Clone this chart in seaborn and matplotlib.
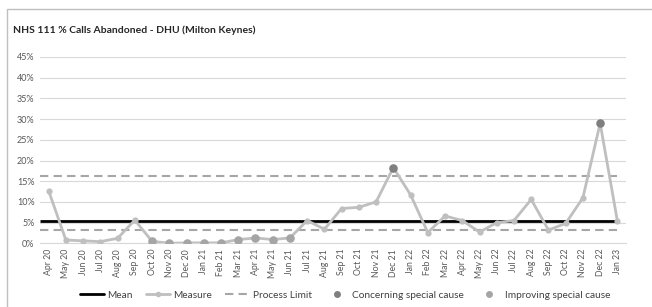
import matplotlib
matplotlib.use("Agg")
import matplotlib.pyplot as plt
import matplotlib.patches as mpatches
from matplotlib.lines import Line2D
import seaborn as sns
import pandas as pd
import numpy as np

months = ["Apr 20", "May 20", "Jun 20", "Jul 20", "Aug 20", "Sep 20", "Oct 20", "Nov 20", "Dec 20",
          "Jan 21", "Feb 21", "Mar 21", "Apr 21", "May 21", "Jun 21", "Jul 21", "Aug 21", "Sep 21",
          "Oct 21", "Nov 21", "Dec 21", "Jan 22", "Feb 22", "Mar 22", "Apr 22", "May 22", "Jun 22",
          "Jul 22", "Aug 22", "Sep 22", "Oct 22", "Nov 22", "Dec 22", "Jan 23"]
measure = [12.7, 0.8, 0.6, 0.4, 1.2, 5.6, 0.5, 0.0, 0.1, 0.1, 0.1, 0.9, 1.3, 0.9, 1.3, 5.5, 3.4,
           8.4, 8.7, 10.0, 18.3, 11.7, 2.6, 6.6, 5.5, 2.7, 5.0, 5.5, 10.6, 3.2, 4.8, 11.0, 29.0, 5.4]
mean_value = 5.5
upper_limit = 16.3
lower_limit = 3.1
concerning_months = ["Dec 21", "Dec 22"]
improving_months = ["Oct 20", "Nov 20", "Dec 20", "Jan 21", "Feb 21", "Mar 21", "Apr 21", "May 21", "Jun 21"]
yticks = [0, 5, 10, 15, 20, 25, 30, 35, 40, 45]

sns.set_style("white")
plt.rcParams['font.family'] = ['Lato', 'DejaVu Sans']

df = pd.DataFrame({"month": months, "measure": np.array(measure) / 100})
df["x"] = np.arange(len(months))
conc = df[df["month"].isin(concerning_months)]
impr = df[df["month"].isin(improving_months)]

fig = plt.figure(figsize=(6.52, 3.07), dpi=100)
ax = fig.add_axes([40 / 652, (307 - 243.3) / 307, 586 / 652, (243.3 - 57) / 307])

n = len(months)
for v in yticks:
    ax.axhline(v / 100, color="#d9d9d9", lw=0.8, zorder=0)

ax.hlines([upper_limit / 100, lower_limit / 100], -0.5, n - 1, colors="#a6a6a6", lw=1.5,
          linestyles=(0, (4, 2.5)), zorder=2)
ax.hlines(mean_value / 100, -0.5, n - 1, colors="black", lw=2.0, zorder=3)

sns.lineplot(data=df, x="x", y="measure", ax=ax, color="#bfbfbf", lw=2.0, marker="o",
             markersize=4.5, markeredgewidth=0, zorder=4, sort=False)
sns.scatterplot(data=impr, x="x", y="measure", ax=ax, color="#a5a5a5", s=38, linewidth=0, zorder=5)
sns.scatterplot(data=conc, x="x", y="measure", ax=ax, color="#7f7f7f", s=38, linewidth=0, zorder=6)

ax.set_xlim(-0.5, n - 0.5)
ax.set_ylim(0, 0.45)
ax.set_yticks([v / 100 for v in yticks])
ax.set_yticklabels([f"{v}%" for v in yticks], fontsize=6.5, color="#595959")
ax.set_xticks(range(n))
ax.set_xticklabels(months, rotation=90, fontsize=6.3, color="#595959")
ax.set_xticks(np.arange(-0.5, n, 1), minor=True)
ax.tick_params(axis="x", which="major", length=0, pad=4)
ax.tick_params(axis="x", which="minor", length=3, color="#d9d9d9", direction="out")
ax.tick_params(axis="y", length=0, pad=4)
ax.set_xlabel("")
ax.set_ylabel("")
for s in ["top", "right", "left"]:
    ax.spines[s].set_visible(False)
ax.spines["bottom"].set_color("#d9d9d9")
ax.spines["bottom"].set_linewidth(0.8)

fig.text(13 / 652, 1 - 30 / 307, "NHS 111 % Calls Abandoned - DHU (Milton Keynes)",
         fontsize=7.5, fontweight="bold", va="center", ha="left")

handles = [
    Line2D([], [], color="black", lw=2.0),
    Line2D([], [], color="#bfbfbf", lw=2.0, marker="o", markersize=4, markeredgewidth=0),
    Line2D([], [], color="#a6a6a6", lw=1.5, linestyle=(0, (4, 2.5))),
    Line2D([], [], color="#7f7f7f", lw=0, marker="o", markersize=5, markeredgewidth=0),
    Line2D([], [], color="#a5a5a5", lw=0, marker="o", markersize=5, markeredgewidth=0),
]
labels = ["Mean", "Measure", "Process Limit", "Concerning special cause", "Improving special cause"]
fig.legend(handles, labels, loc="center", bbox_to_anchor=(345 / 652, 1 - 295 / 307), ncol=5,
           frameon=False, fontsize=7.3, handlelength=2.4, columnspacing=1.3, handletextpad=0.3,
           labelcolor="#404040", borderpad=0)

fig.patches.append(mpatches.Rectangle((7 / 652, -0.05), 1.0, 1 - 9 / 307 + 0.05, transform=fig.transFigure,
                                      fill=False, edgecolor="#bfbfbf", lw=1.0))

fig.savefig("out.png", dpi=100)
